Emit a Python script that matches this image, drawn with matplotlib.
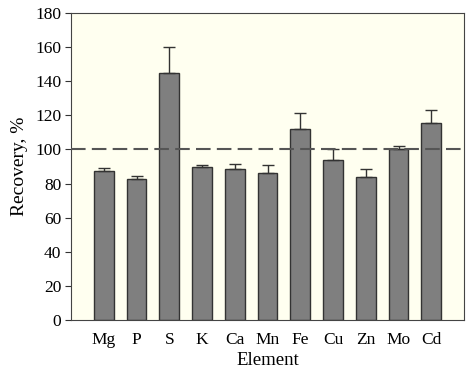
import numpy as np
import matplotlib.pyplot as plt

elements = ["Mg", "P", "S", "K", "Ca", "Mn", "Fe", "Cu", "Zn", "Mo", "Cd"]
recovery = [87.4, 82.7, 144.6, 89.9, 88.5, 86.2, 112.0, 94.0, 84.0, 100.3, 115.3]
error = [1.9, 1.7, 15.7, 0.9, 3.0, 4.7, 9.6, 6.4, 4.3, 1.9, 8.0]

plt.rcParams['font.family'] = ['Liberation Serif', 'DejaVu Serif']
plt.rcParams['font.size'] = 12.5

fig = plt.figure(figsize=(4.68, 3.70), dpi=100)
ax = fig.add_axes([71 / 468, 1 - 320 / 370, 393 / 468, 307 / 370])
ax.set_facecolor("#fffff0")

x = np.arange(len(elements))
ax.bar(x, recovery, width=0.61, color="#7f7f7f", edgecolor="#333333", linewidth=1, zorder=2)
ax.errorbar(x, recovery, yerr=[np.zeros(len(error)), error], fmt="none",
            ecolor="#333333", elinewidth=1, capsize=4, capthick=1, zorder=3)
ax.axhline(100, color="#555555", linestyle=(0, (7, 3)), linewidth=1.5, zorder=4)

ax.set_xlim(-1, 11)
ax.set_ylim(0, 180)
ax.set_yticks(range(0, 181, 20))
ax.set_xticks(x)
ax.set_xticklabels(elements)
ax.tick_params(axis="x", length=0, pad=9)
ax.tick_params(axis="y", direction="out", length=4, color="#333333", pad=3)
for s in ax.spines.values():
    s.set_color("#444444")

ax.set_ylabel("Recovery, %", fontsize=14, labelpad=5)
ax.set_xlabel("Element", fontsize=13.5, labelpad=2.5)

fig.savefig("out.png", dpi=100)
